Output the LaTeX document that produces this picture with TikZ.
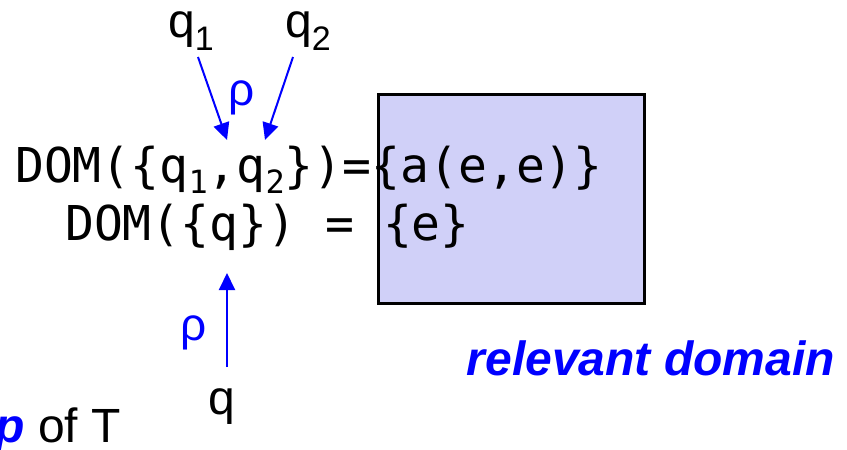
\documentclass[tikz,border=0pt]{standalone}
\usepackage{fontspec}
\setmainfont{Liberation Sans}
\newfontfamily\monof{DejaVu Sans Mono}
\usetikzlibrary{arrows.meta}
\definecolor{boxfill}{RGB}{208,208,248}
\definecolor{myblue}{RGB}{0,0,255}
\newcommand{\bigsz}{\fontsize{48}{48}\selectfont}
\newcommand{\msub}[1]{\raisebox{-11pt}{\fontsize{32}{32}\selectfont #1}}
\newcommand{\psub}[1]{\raisebox{-13pt}{\fontsize{34}{34}\selectfont #1}}
\begin{document}
\begin{tikzpicture}[x=1pt,y=-1pt,
  txt/.style={inner sep=0pt,anchor=base west,font=\bigsz},
  mono/.style={inner sep=0pt,anchor=base west,font=\monof\bigsz},
  rho/.style={inner sep=0pt,text=myblue,font=\fontsize{46}{46}\selectfont},
  arr/.style={draw=myblue,line width=2pt,-{Triangle[length=17pt,width=16pt]}},
  dombox/.style={draw=black,line width=2.5pt,fill=boxfill,inner sep=0pt,anchor=north west,minimum width=266pt,minimum height=209pt}]
\useasboundingbox (0,0) rectangle (847,450);
\node[dombox] (box) at (377,93) {};
\node[txt] (q1) at (168,37) {q\psub{1}};
\node[txt] (q2) at (285,37) {q\psub{2}};
\node[rho] (r1) at (242,98) {ρ};
\node[mono] (l1) at (15,182) {DOM(\{q\msub{1},q\msub{2}\})=\{a(e,e)\}};
\node[mono] (l2) at (65,240) {DOM(\{q\}) = \{e\}};
\node[rho] (r2) at (194,333) {ρ};
\node[txt] (q) at (208,414) {q};
\node[inner sep=0pt,anchor=base east,font=\bigsz] (pT) at (121,442) {\textcolor{myblue}{\textbf{\textit{p}}} of T};
\node[inner sep=0pt,anchor=base east,font=\bigsz\bfseries\itshape,text=myblue] (rel) at (835,375) {relevant domain};
\coordinate (a1s) at (198,57);
\coordinate (a1e) at (227,140);
\coordinate (a2s) at (293,57);
\coordinate (a2e) at (265,140);
\coordinate (a3s) at (227,367);
\coordinate (a3e) at (227,273);
\draw[arr] (a1s) -- (a1e);
\draw[arr] (a2s) -- (a2e);
\draw[arr] (a3s) -- (a3e);
\end{tikzpicture}
\end{document}
